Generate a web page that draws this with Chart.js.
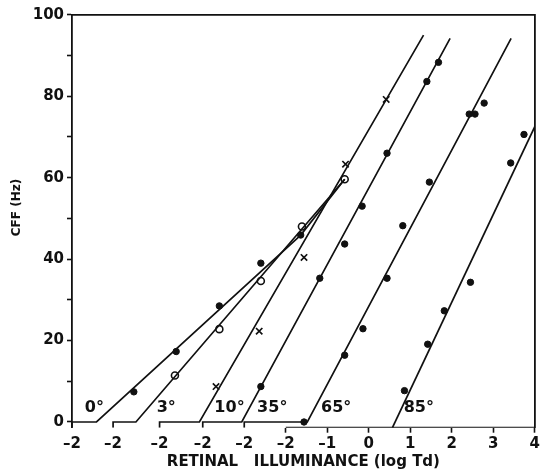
<!DOCTYPE html>
<html>
<head>
<meta charset="utf-8">
<script src="https://cdn.jsdelivr.net/npm/chart.js@4.4.1/dist/chart.umd.min.js"></script>
<style>
  html, body { margin: 0; padding: 0; background: #fff; }
  #wrap { width: 542px; height: 474px; }
</style>
</head>
<body>
<div id="wrap"><canvas id="cff"></canvas></div>
<script>
// one curve per eccentricity, each drawn on its own log Td axis,
// shifted left of the 85° axis by axisShift (log units)
const eccLabels = ['0°', '3°', '10°', '35°', '65°', '85°'];
const axisShift = [-5.15, -4.16, -3.04, -2, -1, 0];

// measured points (x = log Td on the curve's own axis, y = CFF in Hz)
const x0 = [-0.51, 0.51, 1.55, 2.55, 3.51];
const y0 = [7.4, 17.3, 28.5, 39.0, 45.9];
const x3 = [-0.51, 0.56, 1.56, 2.55, 3.58];
const y3 = [11.4, 22.8, 34.6, 48.0, 59.6];
const x10 = [-0.64, 0.40, 1.48, 2.48, 3.46];
const y10 = [8.7, 22.3, 40.4, 63.3, 79.2];
const x35 = [-0.60, 0.82, 1.42, 1.84, 2.44, 3.40, 3.68];
const y35 = [8.7, 35.3, 43.7, 53.0, 66.0, 83.6, 88.3];
const x65 = [-0.56, 0.42, 0.86, 1.44, 1.82, 2.46, 3.42, 3.56, 3.78];
const y65 = [0, 16.4, 22.9, 35.3, 48.2, 58.9, 75.6, 75.6, 78.3];
const x85 = [0.86, 1.42, 1.82, 2.45, 3.42, 3.74];
const y85 = [7.7, 19.1, 27.3, 34.3, 63.6, 70.6];

// fitted lines: where each leaves its baseline, then its upper end
const fit0 = [[-1.41, 0], [3.51, 45.9], [4.57, 59.6]];
const fit3 = [[-1.45, 0], [3.58, 59.6]];
const fit10 = [[-1.04, 0], [4.36, 95.0]];
const fit35 = [[-1.06, 0], [3.96, 94.2]];
const fit65 = [[-0.48, 0], [4.43, 94.2]];
const fit85 = [[0.57, -1.4], [4.0, 72.5]];

const xTickLabels = ['–2', '–2', '–2', '–2', '–2', '–2', '–1', '0', '1', '2', '3', '4'];
const xTickValues = [...axisShift.map(s => -2 + s), -1, 0, 1, 2, 3, 4];
const yTickValues = [0, 10, 20, 30, 40, 50, 60, 70, 80, 90, 100];
const yTickLabels = ['0', '', '20', '', '40', '', '60', '', '80', '', '100'];
const eccLabelX = [-1.69, -0.95, -0.68, -0.69, -0.15, 0.84];
const eccLabelY = 3.5;

const INK = '#111';
const FONT = '"DejaVu Sans", sans-serif';
const yMin = -1.4;   // 85° baseline = the drawn x axis, just under the 0 tick
const xMin = -2 + axisShift[0];

const pointStyles = [
  { pointStyle: 'circle', pointRadius: 3.2, backgroundColor: INK, borderColor: INK, borderWidth: 1 },
  { pointStyle: 'circle', pointRadius: 3.5, backgroundColor: '#fff', borderColor: INK, borderWidth: 1.6 },
  { pointStyle: 'crossRot', pointRadius: 4.5, backgroundColor: INK, borderColor: INK, borderWidth: 1.7 },
  { pointStyle: 'circle', pointRadius: 3.2, backgroundColor: INK, borderColor: INK, borderWidth: 1 },
  { pointStyle: 'circle', pointRadius: 3.2, backgroundColor: INK, borderColor: INK, borderWidth: 1 },
  { pointStyle: 'circle', pointRadius: 3.2, backgroundColor: INK, borderColor: INK, borderWidth: 1 }
];

const fits = [fit0, fit3, fit10, fit35, fit65, fit85];
const xs = [x0, x3, x10, x35, x65, x85];
const ys = [y0, y3, y10, y35, y65, y85];

const lineBase = {
    showLine: true, pointRadius: 0, pointHoverRadius: 0,
    borderColor: INK, borderWidth: 1.7, fill: false, tension: 0
};

let datasets = [];

// the 85° axis runs from its own -2 to 4
datasets.push({ ...lineBase, label: 'axis', data: [{ x: -2, y: yMin }, { x: 4, y: yMin }] });

fits.forEach((fit, i) => {
    let pts = [];
    if (i < 5) {
        // little tick up to the curve's own zero line
        pts.push({ x: -2 + axisShift[i], y: yMin }, { x: -2 + axisShift[i], y: 0 });
    }
    fit.forEach(p => pts.push({ x: p[0] + axisShift[i], y: p[1] }));
    datasets.push({ ...lineBase, label: eccLabels[i] + ' fit', data: pts });
});

xs.forEach((xv, i) => {
    datasets.push({
        label: eccLabels[i],
        data: xv.map((v, k) => ({ x: v + axisShift[i], y: ys[i][k] })),
        showLine: false,
        ...pointStyles[i],
        pointHoverRadius: pointStyles[i].pointRadius
    });
});

const labelPlugin = {
    id: 'eccLabels',
    afterDraw(chart) {
        const { ctx, scales: { x, y } } = chart;
        ctx.save();
        ctx.fillStyle = INK;
        ctx.font = 'bold 16px ' + FONT;
        ctx.textAlign = 'left';
        ctx.textBaseline = 'middle';
        eccLabels.forEach((t, i) => {
            ctx.fillText(t, x.getPixelForValue(eccLabelX[i] + axisShift[i]), y.getPixelForValue(eccLabelY));
        });
        // y title, sits a bit above the middle of the axis in the original
        ctx.translate(16.5, 207.5);
        ctx.rotate(-Math.PI / 2);
        ctx.textAlign = 'center';
        ctx.font = 'bold 12px ' + FONT;
        ctx.fillText('CFF (Hz)', 0, 0);
        ctx.restore();
    }
};

new Chart(document.getElementById('cff'), {
    type: 'scatter',
    data: { datasets: datasets },
    plugins: [labelPlugin],
    options: {
        responsive: true,
        maintainAspectRatio: false,
        animation: false,
        devicePixelRatio: 1,
        layout: { padding: { top: 14.7, right: 5.3, left: 0, bottom: 0 } },
        plugins: { legend: { display: false }, tooltip: { enabled: false } },
        scales: {
            x: {
                type: 'linear',
                min: xMin,
                max: 4,
                afterFit: s => { s.height = 46.3; },
                afterBuildTicks: s => { s.ticks = xTickValues.map(v => ({ value: v })); },
                border: { display: false },
                grid: {
                    drawOnChartArea: false,
                    tickLength: 5,
                    tickWidth: 1.6,
                    tickColor: c => (c.index < 5 ? 'rgba(0,0,0,0)' : INK)
                },
                ticks: {
                    autoSkip: false,
                    maxRotation: 0,
                    padding: 2,
                    color: INK,
                    font: { family: FONT, size: 15, weight: 'bold' },
                    callback: (v, i) => xTickLabels[i]
                },
                title: {
                    display: true,
                    text: 'RETINAL   ILLUMINANCE (log Td)',
                    color: INK,
                    font: { family: FONT, size: 15, weight: 'bold' },
                    padding: { top: 0, bottom: 3 }
                }
            },
            y: {
                type: 'linear',
                min: yMin,
                max: 100,
                afterFit: s => { s.width = 72; },
                afterBuildTicks: s => { s.ticks = yTickValues.map(v => ({ value: v })); },
                border: { display: true, color: INK, width: 1.8 },
                grid: { drawOnChartArea: false, tickLength: 5, tickWidth: 1.6, tickColor: INK },
                ticks: {
                    padding: 3,
                    color: INK,
                    font: { family: FONT, size: 15, weight: 'bold' },
                    callback: (v, i) => yTickLabels[i]
                }
            },
            xTop: {
                type: 'linear', position: 'top', display: true,
                grid: { display: false, drawTicks: false }, ticks: { display: false },
                border: { display: true, color: INK, width: 1.8 }
            },
            yRight: {
                type: 'linear', position: 'right', display: true,
                grid: { display: false, drawTicks: false }, ticks: { display: false },
                border: { display: true, color: INK, width: 1.8 }
            }
        }
    }
});
</script>
</body>
</html>
